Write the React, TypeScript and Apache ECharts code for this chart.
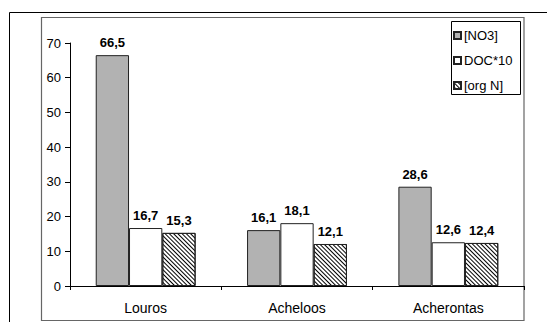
import React, { useEffect, useRef } from "react";
import * as echarts from "echarts";

const rivers = ["Louros", "Acheloos", "Acherontas"];
const no3 = [66.5, 16.1, 28.6];
const doc10 = [16.7, 18.1, 12.6];
const orgN = [15.3, 12.1, 12.4];
const seriesNames = ["[NO3]", "DOC*10", "[org N]"];
const yTicks = { min: 0, max: 70, interval: 10 };

const FONT = "'Liberation Sans', Arial, sans-serif";

const fmt = (v: number) => v.toFixed(1).replace(".", ",");

export default function App() {
  const ref = useRef<HTMLDivElement>(null);

  useEffect(() => {
    if (!ref.current) return;
    const chart = echarts.init(ref.current, undefined, { renderer: "svg" });

    const label = {
      show: true,
      position: "top" as const,
      distance: 6,
      fontFamily: FONT,
      fontSize: 13,
      fontWeight: "bold" as const,
      color: "#000",
      formatter: (p: any) => fmt(p.value),
    };

    chart.setOption({
      animation: false,
      backgroundColor: "#fff",
      textStyle: { fontFamily: FONT },
      grid: { left: 70, right: 23, top: 43, bottom: 36, containLabel: false },
      legend: {
        orient: "vertical",
        left: 453,
        top: 29,
        padding: 0,
        itemWidth: 7,
        itemHeight: 7,
        itemGap: 12,
        icon: "rect",
        textStyle: { fontFamily: FONT, fontSize: 13, color: "#000", lineHeight: 12, padding: [0, 0, 0, -2] },
        data: seriesNames,
      },
      xAxis: {
        type: "category",
        data: rivers,
        boundaryGap: true,
        axisLine: { lineStyle: { color: "#000", width: 1 } },
        axisTick: { show: true, length: 4, lineStyle: { color: "#000" } },
        axisLabel: { color: "#000", fontSize: 14, fontFamily: FONT, margin: 15 },
      },
      yAxis: {
        type: "value",
        min: yTicks.min,
        max: yTicks.max,
        interval: yTicks.interval,
        axisLine: { show: true, lineStyle: { color: "#000", width: 1 } },
        axisTick: { show: true, length: 5, lineStyle: { color: "#000" } },
        axisLabel: { color: "#000", fontSize: 13, fontFamily: FONT, margin: 9 },
        splitLine: { show: false },
      },
      series: [
        {
          name: seriesNames[0],
          type: "bar",
          data: no3,
          barGap: "0%",
          barCategoryGap: "34%",
          itemStyle: { color: "#b2b2b2", borderColor: "#222", borderWidth: 1 },
          label,
        },
        {
          name: seriesNames[1],
          type: "bar",
          data: doc10,
          itemStyle: { color: "#ffffff", borderColor: "#222", borderWidth: 1 },
          label,
        },
        {
          name: seriesNames[2],
          type: "bar",
          data: orgN,
          itemStyle: {
            color: "#ffffff",
            borderColor: "#222",
            borderWidth: 1,
            decal: {
              symbol: "rect",
              symbolSize: 1,
              color: "#000",
              backgroundColor: "#fff",
              dashArrayX: [1, 0],
              dashArrayY: [1, 1.6],
              rotation: Math.PI / 4,
            },
          },
          label,
        },
      ],
      graphic: [
        // outer frame edges
        {
          type: "line",
          shape: { x1: 9.5, y1: 12.5, x2: 547, y2: 12.5 },
          style: { stroke: "#000", lineWidth: 1 },
          silent: true,
        },
        {
          type: "line",
          shape: { x1: 9.5, y1: 12.5, x2: 9.5, y2: 322 },
          style: { stroke: "#000", lineWidth: 1 },
          silent: true,
        },
        // plot frame
        {
          type: "rect",
          shape: { x: 41.5, y: 17.5, width: 482.5, height: 303 },
          style: { fill: "none", stroke: "#666", lineWidth: 1.2 },
          silent: true,
          z: -1,
        },
        // legend box
        {
          type: "rect",
          shape: { x: 451.5, y: 21.5, width: 69, height: 73 },
          style: { fill: "none", stroke: "#000", lineWidth: 1 },
          silent: true,
        },
      ],
    });

    return () => chart.dispose();
  }, []);

  return (
    <div
      ref={ref}
      style={{ position: "fixed", left: 0, top: 0, width: 547, height: 322 }}
    />
  );
}
